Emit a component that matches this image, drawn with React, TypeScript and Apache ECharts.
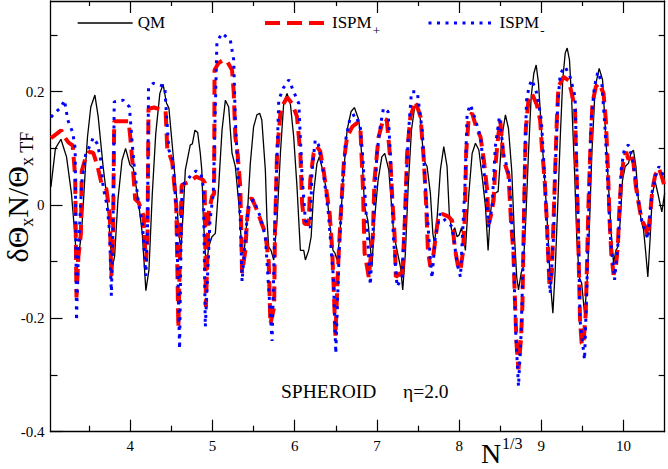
import React, { useEffect, useRef } from "react";
import * as echarts from "echarts";

const qm: number[][] = [
  [3.035,0.032],[3.09,0.1],[3.157,0.116],[3.225,0.085],[3.285,0.02],[3.318,-0.038],[3.35,-0.1],[3.38,-0.08],[3.407,-0.05],
  [3.456,0.068],[3.48,0.12],[3.52,0.173],[3.57,0.194],[3.61,0.156],[3.67,0.068],[3.724,0.003],[3.753,-0.056],[3.78,-0.112],
  [3.81,-0.09],[3.85,0.009],[3.9,0.079],[3.943,0.1],[3.996,0.071],[4.036,0.065],[4.097,0.009],[4.146,-0.05],[4.19,-0.151],
  [4.227,-0.115],[4.268,0.02],[4.31,0.126],[4.36,0.197],[4.4,0.213],[4.44,0.18],[4.47,0.171],[4.52,0.091],[4.56,0.021],
  [4.59,-0.05],[4.617,-0.079],[4.645,-0.009],[4.67,0.062],[4.73,0.106],[4.755,0.108],[4.787,0.132],[4.82,0.128],[4.852,0.091],
  [4.87,0.062],[4.89,-0.027],[4.925,-0.115],[4.953,-0.074],[4.994,-0.056],[5.035,-0.05],[5.075,0.032],[5.116,0.132],[5.157,0.185],
  [5.197,0.173],[5.238,0.091],[5.278,0.068],[5.32,0.003],[5.36,-0.085],[5.387,-0.08],[5.42,-0.027],[5.46,0.073],[5.5,0.138],
  [5.54,0.159],[5.574,0.162],[5.6,0.15],[5.643,0.062],[5.663,-0.027],[5.684,-0.074],[5.712,-0.08],[5.745,-0.097],[5.785,-0.027],
  [5.826,0.091],[5.866,0.179],[5.907,0.197],[5.947,0.179],[5.988,0.12],[6.028,0.032],[6.069,-0.08],[6.11,-0.08],[6.13,-0.097],
  [6.17,-0.08],[6.2,-0.056],[6.23,0.021],[6.27,0.073],[6.3,0.085],[6.35,0.056],[6.39,0.021],[6.43,-0.038],[6.466,-0.08],
  [6.49,-0.085],[6.515,-0.097],[6.548,-0.056],[6.588,0.044],[6.637,0.132],[6.686,0.165],[6.726,0.172],[6.78,0.15],[6.82,0.08],
  [6.85,-0.003],[6.89,-0.027],[6.92,-0.074],[6.94,-0.109],[6.97,-0.027],[7.014,0.044],[7.06,0.085],[7.095,0.091],[7.144,0.062],
  [7.176,0.003],[7.204,-0.05],[7.245,-0.08],[7.286,-0.109],[7.314,-0.15],[7.346,-0.085],[7.38,0.032],[7.42,0.132],[7.46,0.174],
  [7.49,0.18],[7.53,0.15],[7.57,0.08],[7.61,0.068],[7.65,0.021],[7.68,-0.05],[7.7,-0.068],[7.73,-0.027],[7.772,0.062],
  [7.813,0.103],[7.853,0.068],[7.88,-0.015],[7.914,-0.05],[7.946,-0.04],[7.975,-0.056],[8.0,-0.053],[8.028,-0.04],[8.056,-0.06],
  [8.076,-0.08],[8.117,0.018],[8.158,0.091],[8.198,0.109],[8.24,0.097],[8.28,0.05],[8.32,-0.003],[8.352,-0.08],[8.38,-0.015],
  [8.41,0.018],[8.44,0.021],[8.474,0.024],[8.52,0.12],[8.563,0.159],[8.6,0.135],[8.64,0.06],[8.673,-0.056],[8.7,-0.127],
  [8.722,-0.15],[8.754,-0.12],[8.78,-0.109],[8.81,-0.027],[8.843,0.091],[8.876,0.191],[8.908,0.232],[8.937,0.247],[8.965,0.215],
  [9.006,0.12],[9.046,0.032],[9.08,-0.05],[9.107,-0.132],[9.14,-0.191],[9.168,-0.115],[9.2,0.003],[9.23,0.12],[9.26,0.221],
  [9.29,0.268],[9.314,0.277],[9.342,0.256],[9.37,0.18],[9.403,0.062],[9.43,-0.056],[9.46,-0.127],[9.49,-0.138],[9.525,-0.191],
  [9.553,-0.144],[9.58,-0.056],[9.614,0.091],[9.655,0.209],[9.703,0.241],[9.744,0.221],[9.784,0.12],[9.817,0.032],[9.85,-0.05],
  [9.878,-0.103],[9.906,-0.08],[9.93,-0.074],[9.96,-0.027],[9.987,0.044],[10.02,0.068],[10.06,0.074],[10.09,0.091],[10.12,0.097],
  [10.15,0.068],[10.18,0.009],[10.214,-0.027],[10.243,-0.044],[10.27,-0.085],[10.295,-0.127],[10.324,-0.056],[10.35,0.021],
  [10.385,0.041],[10.425,0.015],[10.465,-0.012],[10.5,0.021]
];

const ispmPlus: number[][] = [
  [3.035,0.118],[3.1,0.125],[3.16,0.132],[3.2,0.12],[3.25,0.11],[3.3,0.105],[3.33,0.05],[3.346,-0.163],[3.37,-0.09],[3.4,-0.05],
  [3.41,0.06],[3.46,0.085],[3.5,0.094],[3.55,0.092],[3.6,0.07],[3.65,0.038],[3.71,0.028],[3.75,-0.016],[3.77,-0.125],[3.79,-0.06],
  [3.805,0.148],[3.85,0.148],[3.98,0.148],[4.0,0.12],[4.03,0.07],[4.06,0.01],[4.1,0.005],[4.16,-0.018],[4.19,-0.1],[4.21,-0.06],
  [4.222,0.17],[4.29,0.172],[4.43,0.166],[4.45,0.1],[4.51,0.076],[4.56,-0.002],[4.585,-0.217],[4.61,-0.05],[4.625,0.035],[4.7,0.04],
  [4.75,0.044],[4.8,0.05],[4.88,0.045],[4.905,0.04],[4.92,-0.18],[4.953,-0.015],[4.994,0.015],[5.02,0.02],[5.025,0.238],[5.07,0.25],
  [5.13,0.256],[5.18,0.253],[5.238,0.238],[5.258,0.2],[5.278,0.12],[5.306,0.09],[5.339,0.03],[5.36,-0.12],[5.4,-0.08],[5.42,-0.027],
  [5.45,0.009],[5.48,0.012],[5.54,-0.009],[5.6,-0.033],[5.643,-0.05],[5.684,-0.1],[5.704,-0.21],[5.75,-0.18],[5.76,-0.05],[5.785,0.091],
  [5.826,0.162],[5.866,0.179],[5.907,0.19],[5.968,0.179],[6.028,0.156],[6.069,0.09],[6.09,0.003],[6.118,-0.033],[6.17,-0.034],[6.19,0.045],
  [6.23,0.091],[6.27,0.103],[6.31,0.095],[6.35,0.062],[6.39,0.021],[6.425,-0.015],[6.454,-0.074],[6.474,-0.144],[6.495,-0.232],[6.53,-0.1],
  [6.556,-0.027],[6.6,0.08],[6.637,0.12],[6.7,0.138],[6.76,0.145],[6.8,0.132],[6.83,0.03],[6.85,-0.085],[6.88,-0.109],[6.9,-0.127],
  [6.95,-0.056],[6.97,0.044],[7.02,0.12],[7.08,0.153],[7.12,0.15],[7.163,0.08],[7.19,0.003],[7.216,-0.056],[7.23,-0.127],[7.286,-0.12],
  [7.306,-0.13],[7.338,-0.033],[7.367,0.091],[7.407,0.156],[7.468,0.183],[7.53,0.156],[7.57,0.08],[7.6,-0.003],[7.62,-0.08],[7.65,-0.109],
  [7.69,-0.085],[7.72,-0.05],[7.75,-0.018],[7.8,-0.016],[7.866,-0.02],[7.914,-0.027],[7.946,-0.074],[7.987,-0.109],[8.016,-0.115],[8.044,-0.085],
  [8.07,-0.02],[8.085,0.091],[8.117,0.156],[8.158,0.162],[8.206,0.138],[8.26,0.12],[8.3,0.08],[8.34,0.027],[8.36,-0.033],[8.392,-0.015],
  [8.42,0.009],[8.44,0.068],[8.474,0.12],[8.5,0.15],[8.54,0.08],[8.6,0.053],[8.63,-0.027],[8.66,-0.085],[8.68,-0.174],[8.7,-0.25],
  [8.722,-0.29],[8.754,-0.232],[8.77,-0.174],[8.78,-0.085],[8.795,0.032],[8.81,0.132],[8.843,0.185],[8.884,0.197],[8.945,0.177],[8.985,0.15],
  [9.006,0.103],[9.04,0.044],[9.066,-0.027],[9.087,-0.103],[9.1,-0.144],[9.127,-0.12],[9.148,-0.027],[9.168,0.062],[9.188,0.15],[9.208,0.209],
  [9.27,0.226],[9.33,0.22],[9.37,0.197],[9.41,0.168],[9.42,0.091],[9.44,0.003],[9.452,-0.085],[9.47,-0.203],[9.49,-0.244],[9.51,-0.247],
  [9.54,-0.191],[9.553,-0.115],[9.573,0.003],[9.594,0.091],[9.622,0.18],[9.663,0.209],[9.703,0.215],[9.756,0.197],[9.784,0.15],[9.81,0.062],
  [9.83,-0.027],[9.85,-0.085],[9.878,-0.123],[9.906,-0.109],[9.93,-0.074],[9.946,-0.015],[9.97,0.044],[10.0,0.08],[10.03,0.094],[10.06,0.08],
  [10.09,0.091],[10.12,0.074],[10.15,0.032],[10.19,-0.003],[10.22,-0.027],[10.263,-0.038],[10.295,-0.056],[10.324,-0.015],[10.35,0.027],
  [10.385,0.053],[10.43,0.065],[10.465,0.05],[10.5,0.032]
];

const ispmMinus: number[][] = [
  [3.035,0.155],[3.1,0.165],[3.157,0.172],[3.2,0.185],[3.24,0.15],[3.3,0.128],[3.33,0.1],[3.346,-0.204],[3.37,-0.08],[3.41,0.04],
  [3.456,0.088],[3.51,0.105],[3.55,0.119],[3.6,0.108],[3.64,0.08],[3.67,0.032],[3.72,-0.003],[3.75,-0.05],[3.77,-0.16],[3.79,-0.04],
  [3.805,0.182],[3.915,0.185],[3.99,0.173],[4.02,0.115],[4.05,0.065],[4.1,0.003],[4.146,-0.03],[4.19,-0.125],[4.21,-0.04],[4.222,0.206],
  [4.28,0.215],[4.42,0.209],[4.44,0.16],[4.47,0.097],[4.52,0.079],[4.56,-0.01],[4.6,-0.254],[4.62,-0.04],[4.63,0.035],[4.68,0.041],
  [4.74,0.053],[4.8,0.06],[4.86,0.056],[4.89,0.03],[4.913,-0.215],[4.97,-0.027],[5.01,0.021],[5.054,0.288],[5.116,0.303],[5.217,0.291],
  [5.258,0.256],[5.278,0.15],[5.339,-0.027],[5.36,-0.135],[5.4,-0.056],[5.44,0.003],[5.5,0.009],[5.58,-0.02],[5.643,-0.056],[5.725,-0.24],
  [5.76,-0.03],[5.806,0.185],[5.86,0.206],[5.93,0.221],[5.988,0.2],[6.05,0.179],[6.09,0.05],[6.13,-0.027],[6.19,-0.04],[6.21,0.06],
  [6.25,0.115],[6.29,0.106],[6.35,0.056],[6.41,-0.015],[6.47,-0.127],[6.5,-0.262],[6.54,-0.085],[6.58,0.032],[6.62,0.115],[6.677,0.156],
  [6.74,0.16],[6.8,0.135],[6.83,0.08],[6.92,-0.141],[6.96,-0.027],[7.0,0.091],[7.04,0.138],[7.08,0.171],[7.135,0.165],[7.163,0.091],
  [7.2,-0.056],[7.245,-0.144],[7.306,-0.127],[7.346,0.003],[7.38,0.12],[7.42,0.2],[7.49,0.2],[7.55,0.132],[7.59,0.032],[7.65,-0.097],
  [7.67,-0.129],[7.71,-0.056],[7.77,-0.015],[7.83,-0.027],[7.914,-0.038],[7.975,-0.103],[8.016,-0.127],[8.07,0.032],[8.097,0.162],[8.138,0.177],
  [8.198,0.15],[8.26,0.12],[8.32,0.032],[8.36,-0.04],[8.4,-0.003],[8.44,0.103],[8.49,0.156],[8.54,0.091],[8.61,0.05],[8.66,-0.085],
  [8.69,-0.232],[8.722,-0.32],[8.754,-0.226],[8.78,-0.085],[8.8,0.091],[8.82,0.185],[8.85,0.209],[8.884,0.221],[8.945,0.197],[9.0,0.15],
  [9.046,0.032],[9.08,-0.085],[9.107,-0.156],[9.148,-0.056],[9.168,0.062],[9.2,0.18],[9.23,0.232],[9.29,0.244],[9.35,0.226],[9.41,0.191],
  [9.43,0.07],[9.452,-0.056],[9.47,-0.203],[9.525,-0.273],[9.553,-0.144],[9.573,-0.027],[9.605,0.15],[9.646,0.209],[9.687,0.235],[9.735,0.215],
  [9.776,0.132],[9.81,0.032],[9.84,-0.056],[9.89,-0.132],[9.94,-0.056],[9.97,0.062],[10.01,0.1],[10.06,0.106],[10.11,0.08],[10.16,0.027],
  [10.22,-0.027],[10.295,-0.06],[10.344,0.021],[10.385,0.05],[10.43,0.068],[10.49,0.05]
];

const xMajorTicks = [4, 5, 6, 7, 8, 9, 10];
const xMinorTicks = [3.5, 4.5, 5.5, 6.5, 7.5, 8.5, 9.5];
const yMajorTicks = [-0.4, -0.2, 0, 0.2];
const yMinorTicks = [-0.3, -0.1, 0.1, 0.3];
const yRightTicks = [-0.3, -0.2, -0.1, 0, 0.1, 0.2, 0.3];

const FONT = "Liberation Serif";
const X_MIN = 3.03;
const X_MAX = 10.5;
const Y_MIN = -0.4;
const Y_MAX = 0.36;

function tickAxis(kind: "x" | "y", position: string, values: number[], length: number, showLine: boolean, labels: boolean) {
  const isX = kind === "x";
  return {
    type: "value",
    position,
    min: isX ? X_MIN : Y_MIN,
    max: isX ? X_MAX : Y_MAX,
    axisLine: { show: showLine, onZero: false, lineStyle: { color: "#000", width: 1.3 } },
    axisTick: { show: true, inside: true, length, customValues: values, lineStyle: { color: "#000", width: 1.2 } },
    axisLabel: labels
      ? { show: true, customValues: values, margin: isX ? 7 : 6, fontFamily: FONT, fontSize: 15, color: "#000" }
      : { show: false },
    splitLine: { show: false },
    minorTick: { show: false },
  };
}

export default function App() {
  const ref = useRef<HTMLDivElement>(null);
  useEffect(() => {
    document.body.style.margin = "0";
    const chart = echarts.init(ref.current!, null, { renderer: "svg" });
    const legendRich = {
      a: { fontFamily: FONT, fontSize: 17, color: "#000", lineHeight: 18, verticalAlign: "top" },
      b: { fontFamily: FONT, fontSize: 13, color: "#000", lineHeight: 13, verticalAlign: "top", padding: [10, 0, 0, 1] },
    };
    const legendFmt = (name: string) =>
      name === "ISPM+" ? "{a|ISPM}{b|+}" : name === "ISPM-" ? "{a|ISPM}{b|-}" : "{a|" + name + "}{b| }";
    const mkLegend = (name: string, left: number, w: number, lw: number) => ({
      data: [name],
      left,
      top: 14,
      padding: 0,
      itemWidth: w,
      itemHeight: 16,
      itemGap: 0,
      selectedMode: false,
      formatter: legendFmt,
      lineStyle: { width: lw },
      itemStyle: { opacity: 0, borderWidth: 0 },
      textStyle: { rich: legendRich },
    });
    chart.setOption({
      animation: false,
      backgroundColor: "#fff",
      grid: { left: 50.5, right: 3.3, top: 1, bottom: 37.3, containLabel: false },
      xAxis: [
        tickAxis("x", "bottom", xMajorTicks, 12, true, true),
        tickAxis("x", "bottom", xMinorTicks, 6, false, false),
        tickAxis("x", "top", xMajorTicks, 12, true, false),
        tickAxis("x", "top", xMinorTicks, 5, false, false),
      ],
      yAxis: [
        tickAxis("y", "left", yMajorTicks, 12, true, true),
        tickAxis("y", "left", yMinorTicks, 7, false, false),
        tickAxis("y", "right", yRightTicks, 6, true, false),
      ],
      legend: [
        mkLegend("QM", 77, 55, 1.3),
        mkLegend("ISPM+", 263, 62, 4),
        mkLegend("ISPM-", 427, 66, 3),
      ],
      series: [
        {
          name: "QM",
          type: "line",
          data: qm,
          xAxisIndex: 0,
          yAxisIndex: 0,
          symbol: "none",
          showSymbol: false,
          lineStyle: { color: "#000", width: 1.3 },
          itemStyle: { color: "#000" },
        },
        {
          name: "ISPM+",
          type: "line",
          data: ispmPlus,
          xAxisIndex: 0,
          yAxisIndex: 0,
          symbol: "none",
          showSymbol: false,
          lineStyle: { color: "#ff0000", width: 4, type: [15, 7] },
          itemStyle: { color: "#ff0000" },
        },
        {
          name: "ISPM-",
          type: "line",
          data: ispmMinus,
          xAxisIndex: 0,
          yAxisIndex: 0,
          symbol: "none",
          showSymbol: false,
          lineStyle: { color: "#0000ff", width: 3, type: [3, 5.5] },
          itemStyle: { color: "#0000ff" },
        },
      ],
      graphic: [
        {
          type: "text",
          x: 17,
          y: 197,
          rotation: Math.PI / 2,
          style: {
            text: "{a|δΘ}{b|x}{a|N/Θ}{b|x TF}",
            align: "center",
            verticalAlign: "middle",
            rich: {
              a: { fontFamily: FONT, fontSize: 30, lineHeight: 30, verticalAlign: "top", fill: "#000" },
              b: { fontFamily: FONT, fontSize: 18, lineHeight: 18, verticalAlign: "top", padding: [16, 0, 0, 0], fill: "#000" },
            },
          },
        },
        {
          type: "text",
          x: 481,
          y: 453,
          style: { text: "N", fontFamily: FONT, fontSize: 28, lineHeight: 22, fill: "#000", align: "left", verticalAlign: "middle" },
        },
        {
          type: "text",
          x: 502,
          y: 443,
          style: { text: "1/3", fontFamily: FONT, fontSize: 16, lineHeight: 16, fill: "#000", align: "left", verticalAlign: "middle" },
        },
        {
          type: "text",
          x: 281,
          y: 391,
          style: { text: "SPHEROID", fontFamily: FONT, fontSize: 19.5, fill: "#000", align: "left", verticalAlign: "middle" },
        },
        {
          type: "text",
          x: 403,
          y: 391,
          style: { text: "η=2.0", fontFamily: FONT, fontSize: 19.5, fill: "#000", align: "left", verticalAlign: "middle" },
        },
      ],
    });
    return () => chart.dispose();
  }, []);
  return <div ref={ref} style={{ width: 668, height: 469 }} />;
}
